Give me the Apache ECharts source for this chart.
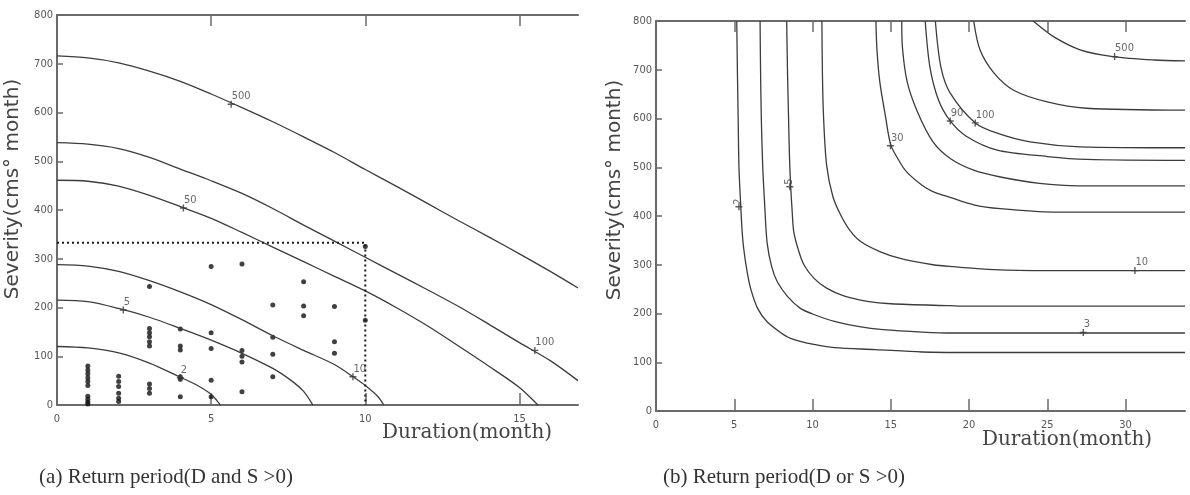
<!DOCTYPE html>
<html>
<head>
<meta charset="utf-8">
<title>Return period</title>
<script src="https://cdn.jsdelivr.net/npm/echarts@6/dist/echarts.min.js"></script>
<style>
  html, body { margin: 0; padding: 0; background: #fff; }
  #chart { width: 1190px; height: 495px; }
</style>
</head>
<body>
<div id="chart"></div>
<script>
// (a) D and S > 0 : return period curves, [duration, severity]
const curveA2 = [[0,120],[1,117],[2,107],[3,86],[4,57],[4.5,42],[5,22],[5.2,8],[5.3,0]];
const curveA5 = [[0,215],[1,212],[2,198],[3,180],[4,157],[5,133],[6,106],[7,75],[7.6,50],[8,28],[8.3,0]];
const curveA10 = [[0,288],[1,285],[2,274],[3,255],[4,232],[5,206],[6,175],[7,142],[8,112],[9,83],[9.6,58],[10,40],[10.4,18],[10.6,0]];
const curveA50 = [[0,461],[1,459],[2,449],[3,430],[4,407],[5,383],[6,354],[7,324],[8,294],[9,264],[10,234],[11,200],[12,163],[13,122],[14,80],[15,36],[15.6,0]];
const curveA100 = [[0,538],[1,535],[2,526],[3,508],[4,484],[5,460],[6,434],[7,403],[8,369],[9,336],[10,303],[11,270],[12,237],[13,203],[14,166],[15,128],[16,91],[16.9,50]];
const curveA500 = [[0,716],[1,712],[2,702],[3,685],[4,664],[5,638],[6,610],[7,581],[8,550],[9,518],[10,483],[11,449],[12,414],[13,379],[14,345],[15,310],[16,274],[16.9,240]];

// observed droughts
const droughts = [
  [1,80],[1,72],[1,64],[1,56],[1,48],[1,40],[1,18],[1,12],[1,6],[1,2],
  [2,59],[2,48],[2,38],[2,24],[2,14],[2,7],
  [3,243],[3,157],[3,148],[3,140],[3,130],[3,121],[3,43],[3,34],[3,24],
  [4,156],[4,121],[4,113],[4,58],[4,53],[4,17],
  [5,284],[5,148],[5,116],[5,51],[5,17],
  [6,289],[6,112],[6,100],[6,88],[6,27],
  [7,205],[7,139],[7,104],[7,58],
  [8,253],[8,203],[8,183],
  [9,202],[9,130],[9,106],
  [10,325],[10,174]
];
const designLine = [[0,333],[10,333],[10,0]];
const labelsA = [[5.65,617,'500'],[4.1,404,'50'],[2.15,195,'5'],[4.0,56,'2'],[9.6,58,'10'],[15.5,112,'100']];

// (b) D or S > 0
const curveB2 = [[5.16,800],[5.2,700],[5.25,600],[5.3,500],[5.4,430],[5.5,370],[5.6,334],[5.8,290],[6.04,252],[6.5,210],[7.1,183],[8,160],[8.6,149],[10,137],[11.4,130],[14,126],[17,121],[20,120],[33.8,120]];
const curveB3 = [[6.65,800],[6.68,700],[6.73,600],[6.82,500],[6.95,420],[7.1,345],[7.4,295],[7.75,265],[8.4,235],[9.2,211],[10,199],[11.4,184],[13,173],[14.5,167],[17,162],[19,160],[33.8,160]];
const curveB5 = [[8.35,800],[8.4,700],[8.47,600],[8.53,520],[8.6,464],[8.7,410],[8.8,368],[9.1,330],[9.45,300],[10.1,272],[10.9,252],[12,236],[13.5,225],[15,220],[18.8,216],[20,215],[33.8,215]];
const curveB10 = [[10.6,800],[10.63,700],[10.7,607],[10.9,505],[11.3,440],[11.8,402],[12.4,370],[13.1,347],[14.3,327],[15.6,313],[17.7,300],[19,296],[21.6,290],[25,288],[33.8,288]];
const curveB30 = [[14.05,800],[14.12,740],[14.3,675],[14.65,607],[15,546],[15.5,515],[16,491],[17,463],[17.7,450],[18.8,438],[20.3,423],[22,415],[25.4,408],[33.8,408]];
const curveB20 = [[15.7,800],[15.75,744],[16.05,675],[16.7,614],[17.7,552],[18.8,518],[20.3,494],[22,480],[24.5,467],[27,462],[33.8,462]];
const curveB50 = [[17.2,800],[17.5,706],[18.05,638],[18.8,595],[19.85,563],[21.8,535],[25,522],[27.5,516],[33.8,514]];
const curveB100 = [[17.85,800],[18.2,706],[18.8,652],[20.4,591],[21.8,570],[23.9,552],[27.1,542],[33.8,540]];
const curveB200 = [[20.3,800],[20.7,741],[21.6,693],[22.85,658],[25,634],[27.5,621],[33.8,617]];
const curveB500 = [[24.1,800],[25.4,768],[27.1,741],[29.2,727],[31.8,720],[33.8,718]];
const labelsB = [[14.98,544,'30'],[18.8,595,'90'],[20.4,591,'100'],[29.3,727,'500'],[30.6,288,'10'],[27.3,161,'3']];
const labelsBUp = [[5.3,419,'2'],[8.55,460,'5']];

const ticksA = [0, 5, 10, 15];
const ticksB = [0, 5, 10, 15, 20, 25, 30];
const yTicks = [0, 100, 200, 300, 400, 500, 600, 700, 800];

const tickFont = '"DejaVu Sans Condensed", "Roboto Condensed", "Liberation Sans Narrow", "DejaVu Sans", sans-serif';
const axisGray = '#6a6a6a';
const plusMark = 'path://M4,0H6V4H10V6H6V10H4V6H0V4H4Z';

function bottomAxis(grid, max, ticks) {
  return {
    type: 'value', gridIndex: grid, position: 'bottom', min: 0, max: max,
    axisLine: { lineStyle: { color: axisGray, width: 2 } },
    axisTick: { inside: true, length: 12, customValues: ticks, lineStyle: { color: axisGray, width: 1.5 } },
    axisLabel: { customValues: ticks, margin: 9, fontFamily: tickFont, fontSize: 11, color: '#555' },
    splitLine: { show: false }
  };
}
function topAxis(grid, max, ticks) {
  return {
    type: 'value', gridIndex: grid, position: 'top', min: 0, max: max,
    axisLine: { lineStyle: { color: axisGray, width: 2 } },
    axisTick: { inside: true, length: 11, customValues: ticks.filter(v => v > 0), lineStyle: { color: axisGray, width: 1.5 } },
    axisLabel: { show: false },
    splitLine: { show: false }
  };
}
function leftAxis(grid) {
  return {
    type: 'value', gridIndex: grid, min: 0, max: 800, interval: 100,
    axisLine: { show: true, lineStyle: { color: axisGray, width: 2 } },
    axisTick: { show: true, inside: true, length: 6, customValues: yTicks, lineStyle: { color: axisGray, width: 1.5 } },
    axisLabel: { customValues: yTicks, margin: 4, fontFamily: tickFont, fontSize: 11, color: '#555' },
    splitLine: { show: false }
  };
}
function curve(data, axis) {
  return {
    type: 'line', xAxisIndex: axis, yAxisIndex: axis === 0 ? 0 : 1, data: data,
    smooth: 0.3, symbol: 'none', silent: true,
    lineStyle: { color: '#3c3c3c', width: 1.3 }
  };
}
function marks(data, axis, rotate) {
  return {
    type: 'scatter', xAxisIndex: axis, yAxisIndex: axis === 0 ? 0 : 1,
    data: data, symbol: plusMark, symbolSize: 7, silent: true,
    itemStyle: { color: '#333' },
    label: {
      show: true, formatter: p => p.value[2], position: 'right', distance: 0,
      rotate: rotate || 0, offset: rotate ? [2, -4] : [-3, -8],
      fontFamily: tickFont, fontSize: 11, color: '#444'
    }
  };
}

const curvesA = [curveA2, curveA5, curveA10, curveA50, curveA100, curveA500];
const curvesB = [curveB2, curveB3, curveB5, curveB10, curveB30, curveB20, curveB50, curveB100, curveB200, curveB500];

const series = [];
curvesA.forEach(c => series.push(curve(c, 0)));
curvesB.forEach(c => series.push(curve(c, 2)));
series.push({
  type: 'line', xAxisIndex: 0, yAxisIndex: 0, data: designLine, symbol: 'none', silent: true,
  lineStyle: { color: '#1a1a1a', width: 2, type: [2, 3] }
});
series.push({
  type: 'scatter', xAxisIndex: 0, yAxisIndex: 0, data: droughts, symbol: 'circle', symbolSize: 5,
  silent: true, itemStyle: { color: '#111' }
});
series.push(marks(labelsA, 0));
series.push(marks(labelsB, 2));
series.push(marks(labelsBUp, 2, 90));

const titleFont = '20px "DejaVu Sans"';
const captionFont = '21px "Liberation Serif"';
const option = {
  animation: false,
  backgroundColor: '#fff',
  grid: [
    { left: 57, top: 15, width: 521, height: 390 },
    { left: 656, top: 21, width: 529, height: 390 }
  ],
  xAxis: [
    bottomAxis(0, 16.9, ticksA), topAxis(0, 16.9, ticksA),
    bottomAxis(1, 33.8, ticksB), topAxis(1, 33.8, ticksB)
  ],
  yAxis: [leftAxis(0), leftAxis(1)],
  series: series,
  graphic: [
    { type: 'text', x: 13, y: 189, rotation: Math.PI / 2,
      style: { text: 'Severity(cms° month)', font: titleFont, fill: '#444', align: 'center', verticalAlign: 'middle' } },
    { type: 'text', x: 615, y: 190, rotation: Math.PI / 2,
      style: { text: 'Severity(cms° month)', font: titleFont, fill: '#444', align: 'center', verticalAlign: 'middle' } },
    { type: 'text', x: 467, y: 433,
      style: { text: 'Duration(month)', font: '20px "DejaVu Serif"', fill: '#444', align: 'center', verticalAlign: 'middle' } },
    { type: 'text', x: 1067, y: 440,
      style: { text: 'Duration(month)', font: '20px "DejaVu Serif"', fill: '#444', align: 'center', verticalAlign: 'middle' } },
    { type: 'text', x: 166, y: 477,
      style: { text: '(a) Return period(D and S >0)', font: captionFont, fill: '#333', align: 'center', verticalAlign: 'middle' } },
    { type: 'text', x: 784, y: 477,
      style: { text: '(b) Return period(D or S >0)', font: captionFont, fill: '#333', align: 'center', verticalAlign: 'middle' } }
  ]
};

const chart = echarts.init(document.getElementById('chart'));
chart.setOption(option);
</script>
</body>
</html>
